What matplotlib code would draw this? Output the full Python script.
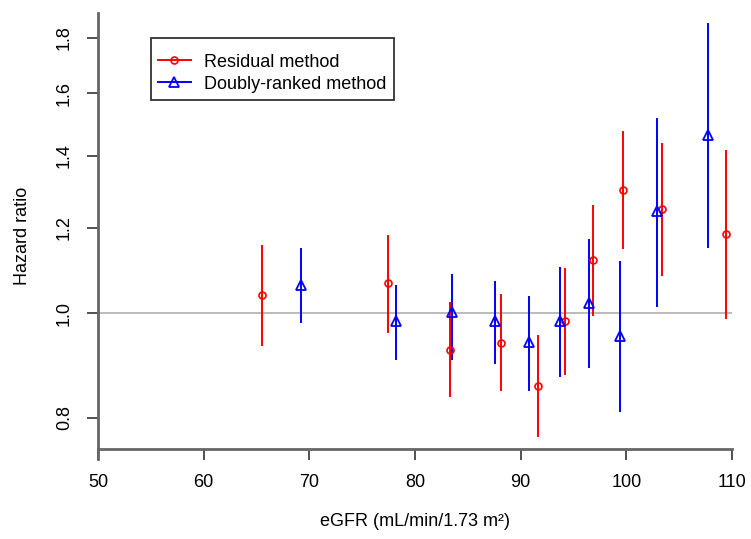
import numpy as np
import matplotlib.pyplot as plt
from matplotlib.lines import Line2D

plt.rcParams['font.family'] = ['Liberation Sans', 'DejaVu Sans']

# residual method: eGFR position, hazard ratio, 95% CI
res_x = [65.5, 77.4, 83.3, 88.1, 91.6, 94.2, 96.8, 99.7, 103.4, 109.4]
res_hr = [1.040, 1.066, 0.925, 0.939, 0.857, 0.983, 1.120, 1.300, 1.249, 1.184]
res_lo = [0.933, 0.959, 0.836, 0.848, 0.768, 0.877, 0.994, 1.146, 1.084, 0.987]
res_hi = [1.156, 1.182, 1.025, 1.041, 0.955, 1.101, 1.260, 1.475, 1.437, 1.417]

# doubly-ranked method
dr_x = [69.2, 78.2, 83.5, 87.6, 90.8, 93.7, 96.5, 99.4, 102.9, 107.7]
dr_hr = [1.062, 0.983, 1.003, 0.983, 0.941, 0.983, 1.023, 0.953, 1.245, 1.462]
dr_lo = [0.980, 0.906, 0.905, 0.897, 0.848, 0.873, 0.890, 0.810, 1.014, 1.149]
dr_hi = [1.149, 1.062, 1.088, 1.072, 1.038, 1.105, 1.171, 1.118, 1.518, 1.857]

xticks = [50, 60, 70, 80, 90, 100, 110]
yticks = [0.8, 1.0, 1.2, 1.4, 1.6, 1.8]
ytick_labels = ['0.8', '1.0', '1.2', '1.4', '1.6', '1.8']

W, H = 751, 539
fig = plt.figure(figsize=(W / 100, H / 100), dpi=100)
ax = fig.add_axes([98 / W, 1 - 459 / H, (732 - 98) / W, (459 - 12.7) / H])

ax.set_yscale('log')
ax.set_xlim(50, 110)
ax.set_ylim(0.7327, 1.8996)

ax.axhline(1.0, color='#a8a8a8', lw=1.1, zorder=1)

red, blue = '#ff0000', '#0000ff'
ax.vlines(res_x, res_lo, res_hi, color=red, lw=1.4, zorder=2)
ax.plot(res_x, res_hr, 'o', ms=5, mfc='none', mec=red, mew=1.2, ls='none', zorder=3)
ax.vlines(dr_x, dr_lo, dr_hi, color=blue, lw=1.4, zorder=2)
ax.plot(dr_x, dr_hr, '^', ms=7.5, mfc='none', mec=blue, mew=1.3, ls='none', zorder=3)

ax.set_xticks(xticks)
ax.set_yticks(yticks)
ax.set_yticklabels(ytick_labels)
ax.yaxis.set_minor_locator(plt.NullLocator())
ax.tick_params(axis='both', labelsize=13, length=8, width=1.2, color='#333333')
ax.tick_params(axis='x', pad=10)
ax.tick_params(axis='y', pad=10)
for t in ax.get_yticklabels():
    t.set_rotation(90)
    t.set_va('center')

for s in ['top', 'right']:
    ax.spines[s].set_visible(False)
ax.spines['left'].set_color('#666666')
ax.spines['left'].set_linewidth(2)
ax.spines['bottom'].set_color('#666666')
ax.spines['bottom'].set_linewidth(2)
ax.spines['bottom'].set_position(('data', 0.7485))

ax.set_xlabel('eGFR (mL/min/1.73 m²)', fontsize=13)
ax.xaxis.set_label_coords(0.5, (459 - 522) / 446.3)
ax.xaxis.label.set_va('center')
ax.set_ylabel('Hazard ratio', fontsize=13)
ax.yaxis.set_label_coords((23 - 98) / 634, 0.5)
ax.yaxis.label.set_va('center')

handles = [
    Line2D([], [], color=red, lw=1.4, marker='o', ms=5, mfc='none', mec=red, mew=1.2),
    Line2D([], [], color=blue, lw=1.4, marker='^', ms=7.5, mfc='none', mec=blue, mew=1.3),
]
leg = ax.legend(handles, ['Residual method', 'Doubly-ranked method'],
                loc='upper left', bbox_to_anchor=((151 - 98) / 634, (459 - 37.7) / 446.3),
                borderaxespad=0, fontsize=13, fancybox=False, framealpha=1,
                edgecolor='#333333', handlelength=1.8, handletextpad=0.75,
                borderpad=0.4, labelspacing=0.27,
                title=' ', title_fontsize=3)
leg.get_frame().set_linewidth(1.3)

fig.savefig('out.png', dpi=100)
